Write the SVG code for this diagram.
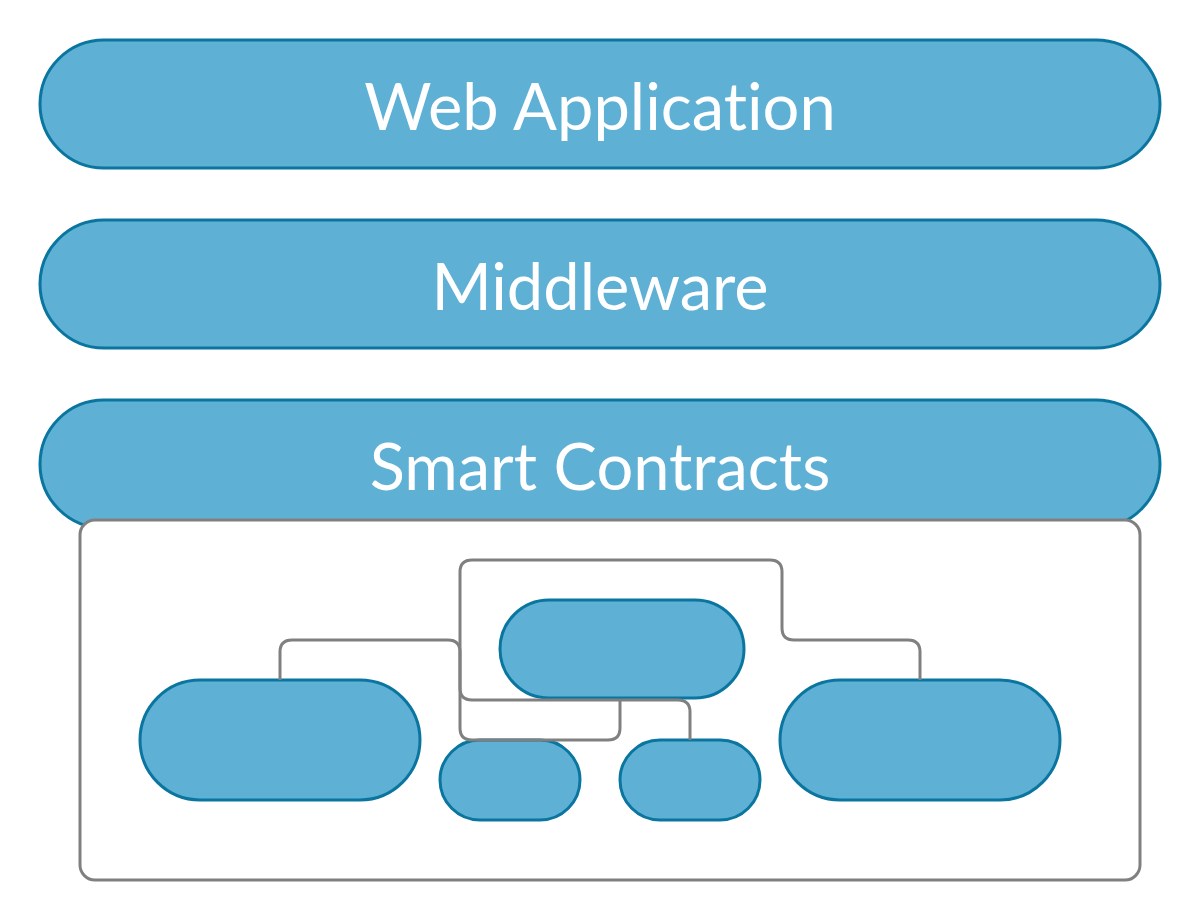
<svg xmlns="http://www.w3.org/2000/svg" width="1201" height="920" viewBox="0 0 1201 920">
<style>
.pill{fill:#5eb0d5;stroke:#0a76a0;stroke-width:3}
.lbl{font-family:Lato,"Open Sans",sans-serif;font-size:65px;fill:#ffffff;text-anchor:middle;font-variant-ligatures:none}
.box{fill:#ffffff;stroke:#808080;stroke-width:3}
.conn{fill:none;stroke:#808080;stroke-width:3}
</style>
<rect width="1201" height="920" fill="#ffffff"/>
<g id="web-application">
<rect class="pill" x="40" y="40" width="1120" height="128" rx="64"/>
<text class="lbl" x="600" y="130">Web Application</text>
</g>
<g id="middleware">
<rect class="pill" x="40" y="220" width="1120" height="128" rx="64"/>
<text class="lbl" x="600" y="310">Middleware</text>
</g>
<g id="smart-contracts">
<rect class="pill" x="40" y="400" width="1120" height="128" rx="64"/>
<text class="lbl" x="600" y="490">Smart Contracts</text>
</g>
<g id="container">
<rect class="box" x="80" y="520" width="1060" height="360" rx="15"/>
</g>
<g id="node-center"><rect class="pill" x="500" y="600" width="244" height="98" rx="49"/></g>
<g id="node-left"><rect class="pill" x="140" y="680" width="280" height="120" rx="60"/></g>
<g id="node-right"><rect class="pill" x="780" y="680" width="280" height="120" rx="60"/></g>
<g id="node-small1"><rect class="pill" x="440" y="740" width="140" height="80" rx="40"/></g>
<g id="node-small2"><rect class="pill" x="620" y="740" width="140" height="80" rx="40"/></g>
<g id="connectors">
<path class="conn" d="M280,680 V652 Q280,640 292,640 H448 Q460,640 460,652 V688 Q460,700 472,700 H678 Q690,700 690,712 V740"/>
<path class="conn" d="M920,680 V652 Q920,640 908,640 H794 Q782,640 782,628 V572 Q782,560 770,560 H472 Q460,560 460,572 V728 Q460,740 472,740 H608 Q620,740 620,728 V700"/>
</g>
</svg>
